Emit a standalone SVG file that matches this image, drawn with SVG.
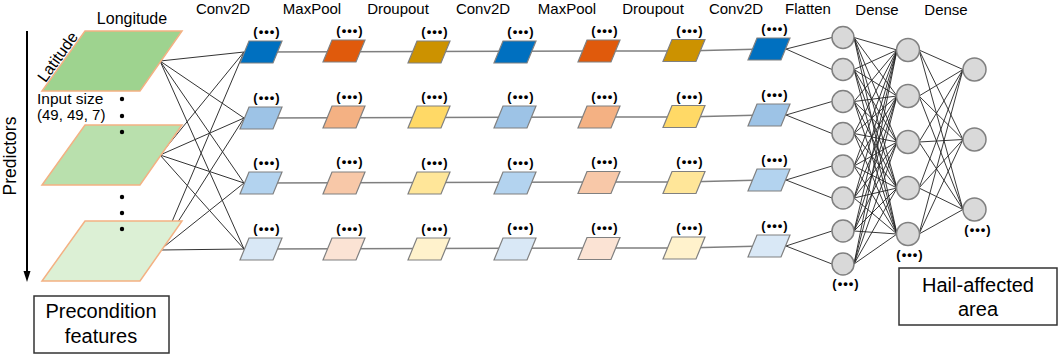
<svg xmlns="http://www.w3.org/2000/svg" xmlns:xlink="http://www.w3.org/1999/xlink" width="1059" height="356" viewBox="0 0 1059 356">
<style>
text{font-family:"Liberation Sans",Arial,sans-serif;fill:#000}
.hd{font-size:15px;text-anchor:middle}
.el{font-size:13px;font-weight:bold;text-anchor:middle;letter-spacing:1px}
.big{stroke:#f4b183;stroke-width:1.5}
.sm{stroke:#808080;stroke-width:1.2}
.fan line{stroke:#333;stroke-width:1}
.row{stroke:#7f7f7f;stroke-width:1.5;fill:none}
.nn line{stroke:#222;stroke-width:0.9}
.cir{fill:#d9d9d9;stroke:#808080;stroke-width:1.5}
.box{fill:#fff;stroke:#333;stroke-width:1.5}
.bt{font-size:20px;text-anchor:middle}
.c1a{fill:#0070c0}.c1b{fill:#9dc3e6}.c1c{fill:#b3d3ef}.c1d{fill:#d9e8f6}
.mpa{fill:#e05a0c}.mpb{fill:#f4b183}.mpc{fill:#f8c8a8}.mpd{fill:#fbe3d4}
.dra{fill:#cc9200}.drb{fill:#ffd966}.drc{fill:#ffe699}.drd{fill:#fff2cc}
</style>
<defs>
<path id="pg" d="M-12,-11 L21,-11 L12,11 L-21,11 Z"/>
</defs>

<!-- left axis -->
<g id="predictors">
<line x1="27" y1="31" x2="27" y2="272" stroke="#000" stroke-width="2"/>
<polygon points="27,282 23.5,271 30.5,271" fill="#000"/>
<text x="16" y="156" font-size="17.5" text-anchor="middle" transform="rotate(-90 16 156)">Predictors</text>
</g>

<!-- connectors -->
<g id="connectors">
<g class="fan">
<line x1="160" y1="61" x2="244" y2="52"/><line x1="160" y1="61" x2="244" y2="118"/><line x1="160" y1="61" x2="244" y2="183"/><line x1="160" y1="61" x2="244" y2="249"/>
<line x1="160" y1="155" x2="244" y2="52"/><line x1="160" y1="155" x2="244" y2="118"/><line x1="160" y1="155" x2="244" y2="183"/><line x1="160" y1="155" x2="244" y2="249"/>
<line x1="160" y1="250" x2="244" y2="52"/><line x1="160" y1="250" x2="244" y2="118"/><line x1="160" y1="250" x2="244" y2="183"/><line x1="160" y1="250" x2="244" y2="249"/>
</g>
<polyline class="row" points="261,52 599,51 684,51 769,49"/>
<polyline class="row" points="261,118 599,117 684,117 769,115"/>
<polyline class="row" points="261,183 599,182 684,182 769,180"/>
<polyline class="row" points="261,249 599,248 684,248 769,246"/>
<g class="nn">
<line x1="786" y1="49" x2="832" y2="37.5"/><line x1="786" y1="49" x2="832" y2="69.5"/>
<line x1="786" y1="115" x2="832" y2="101.5"/><line x1="786" y1="115" x2="832" y2="133.5"/>
<line x1="786" y1="180" x2="832" y2="166"/><line x1="786" y1="180" x2="832" y2="198"/>
<line x1="786" y1="246" x2="832" y2="231"/><line x1="786" y1="246" x2="832" y2="264"/>
</g>
<g class="nn" id="d1d2">
<line x1="854" y1="37.5" x2="897" y2="50"/><line x1="854" y1="37.5" x2="897" y2="96"/><line x1="854" y1="37.5" x2="897" y2="142"/><line x1="854" y1="37.5" x2="897" y2="188"/><line x1="854" y1="37.5" x2="897" y2="234"/>
<line x1="854" y1="69.5" x2="897" y2="50"/><line x1="854" y1="69.5" x2="897" y2="96"/><line x1="854" y1="69.5" x2="897" y2="142"/><line x1="854" y1="69.5" x2="897" y2="188"/><line x1="854" y1="69.5" x2="897" y2="234"/>
<line x1="854" y1="101.5" x2="897" y2="50"/><line x1="854" y1="101.5" x2="897" y2="96"/><line x1="854" y1="101.5" x2="897" y2="142"/><line x1="854" y1="101.5" x2="897" y2="188"/><line x1="854" y1="101.5" x2="897" y2="234"/>
<line x1="854" y1="133.5" x2="897" y2="50"/><line x1="854" y1="133.5" x2="897" y2="96"/><line x1="854" y1="133.5" x2="897" y2="142"/><line x1="854" y1="133.5" x2="897" y2="188"/><line x1="854" y1="133.5" x2="897" y2="234"/>
<line x1="854" y1="166" x2="897" y2="50"/><line x1="854" y1="166" x2="897" y2="96"/><line x1="854" y1="166" x2="897" y2="142"/><line x1="854" y1="166" x2="897" y2="188"/><line x1="854" y1="166" x2="897" y2="234"/>
<line x1="854" y1="198" x2="897" y2="50"/><line x1="854" y1="198" x2="897" y2="96"/><line x1="854" y1="198" x2="897" y2="142"/><line x1="854" y1="198" x2="897" y2="188"/><line x1="854" y1="198" x2="897" y2="234"/>
<line x1="854" y1="231" x2="897" y2="50"/><line x1="854" y1="231" x2="897" y2="96"/><line x1="854" y1="231" x2="897" y2="142"/><line x1="854" y1="231" x2="897" y2="188"/><line x1="854" y1="231" x2="897" y2="234"/>
<line x1="854" y1="264" x2="897" y2="50"/><line x1="854" y1="264" x2="897" y2="96"/><line x1="854" y1="264" x2="897" y2="142"/><line x1="854" y1="264" x2="897" y2="188"/><line x1="854" y1="264" x2="897" y2="234"/>
</g>
<g class="nn" id="d2d3">
<line x1="919" y1="50" x2="963" y2="69.5"/><line x1="919" y1="50" x2="963" y2="139.5"/><line x1="919" y1="50" x2="963" y2="209.5"/>
<line x1="919" y1="96" x2="963" y2="69.5"/><line x1="919" y1="96" x2="963" y2="139.5"/><line x1="919" y1="96" x2="963" y2="209.5"/>
<line x1="919" y1="142" x2="963" y2="69.5"/><line x1="919" y1="142" x2="963" y2="139.5"/><line x1="919" y1="142" x2="963" y2="209.5"/>
<line x1="919" y1="188" x2="963" y2="69.5"/><line x1="919" y1="188" x2="963" y2="139.5"/><line x1="919" y1="188" x2="963" y2="209.5"/>
<line x1="919" y1="234" x2="963" y2="69.5"/><line x1="919" y1="234" x2="963" y2="139.5"/><line x1="919" y1="234" x2="963" y2="209.5"/>
</g>
</g>

<!-- input planes -->
<g id="input1">
<polygon class="big" points="85,31 182,31 140,91 42,91" fill="#9ed38f"/>
<text x="132" y="24" font-size="16" text-anchor="middle">Longitude</text>
<text x="62" y="60" font-size="16" text-anchor="middle" transform="rotate(-54.4 62 60)">Latitude</text>
</g>
<g id="input2">
<polygon class="big" points="85,125 182,125 140,185 42,185" fill="#b9e0ad"/>
</g>
<g id="input3">
<polygon class="big" points="85,221 182,221 140,281 42,281" fill="#dcf0d5"/>
</g>
<g id="input-labels">
<text x="37" y="104" font-size="15.5">Input size</text>
<text x="37" y="120" font-size="15">(49, 49, 7)</text>
<circle cx="122" cy="99" r="2.2"/><circle cx="122" cy="116" r="2.2"/><circle cx="122" cy="132" r="2.2"/>
<circle cx="122" cy="197" r="2.2"/><circle cx="122" cy="213" r="2.2"/><circle cx="122" cy="229" r="2.2"/>
</g>
<g id="precondition">
<rect class="box" x="34" y="296" width="135" height="57"/>
<text class="bt" x="101" y="318">Precondition</text>
<text class="bt" x="101" y="343">features</text>
</g>

<!-- headers -->
<g id="headers">
<text class="hd" x="223" y="14">Conv2D</text>
<text class="hd" x="312" y="14">MaxPool</text>
<text class="hd" x="398" y="14">Droupout</text>
<text class="hd" x="483" y="14">Conv2D</text>
<text class="hd" x="567" y="14">MaxPool</text>
<text class="hd" x="653" y="14">Droupout</text>
<text class="hd" x="736" y="14">Conv2D</text>
<text class="hd" x="808" y="14">Flatten</text>
<text class="hd" x="877" y="15">Dense</text>
<text class="hd" x="946" y="15">Dense</text>
</g>

<!-- row 1 -->
<g id="r1-conv1"><use href="#pg" x="261" y="52" class="sm c1a"/><text class="el" x="267" y="36">(•••)</text></g>
<g id="r1-pool1"><use href="#pg" x="344" y="51" class="sm mpa"/><text class="el" x="350" y="35">(•••)</text></g>
<g id="r1-drop1"><use href="#pg" x="429" y="52" class="sm dra"/><text class="el" x="435" y="36">(•••)</text></g>
<g id="r1-conv2"><use href="#pg" x="515" y="52" class="sm c1a"/><text class="el" x="521" y="36">(•••)</text></g>
<g id="r1-pool2"><use href="#pg" x="599" y="51" class="sm mpa"/><text class="el" x="605" y="35">(•••)</text></g>
<g id="r1-drop2"><use href="#pg" x="684" y="50.5" class="sm dra"/><text class="el" x="690" y="34.5">(•••)</text></g>
<g id="r1-conv3"><use href="#pg" x="769" y="49" class="sm c1a"/><text class="el" x="775" y="33">(•••)</text></g>
<!-- row 2 -->
<g id="r2-conv1"><use href="#pg" x="261" y="118" class="sm c1b"/><text class="el" x="267" y="102">(•••)</text></g>
<g id="r2-pool1"><use href="#pg" x="344" y="117" class="sm mpb"/><text class="el" x="350" y="101">(•••)</text></g>
<g id="r2-drop1"><use href="#pg" x="429" y="117" class="sm drb"/><text class="el" x="435" y="101">(•••)</text></g>
<g id="r2-conv2"><use href="#pg" x="515" y="117" class="sm c1b"/><text class="el" x="521" y="101">(•••)</text></g>
<g id="r2-pool2"><use href="#pg" x="599" y="117" class="sm mpb"/><text class="el" x="605" y="101">(•••)</text></g>
<g id="r2-drop2"><use href="#pg" x="684" y="116.5" class="sm drb"/><text class="el" x="690" y="100.5">(•••)</text></g>
<g id="r2-conv3"><use href="#pg" x="769" y="115" class="sm c1b"/><text class="el" x="775" y="99">(•••)</text></g>
<!-- row 3 -->
<g id="r3-conv1"><use href="#pg" x="261" y="183" class="sm c1c"/><text class="el" x="267" y="167">(•••)</text></g>
<g id="r3-pool1"><use href="#pg" x="344" y="183" class="sm mpc"/><text class="el" x="350" y="166">(•••)</text></g>
<g id="r3-drop1"><use href="#pg" x="429" y="183" class="sm drc"/><text class="el" x="435" y="167">(•••)</text></g>
<g id="r3-conv2"><use href="#pg" x="515" y="183" class="sm c1c"/><text class="el" x="521" y="167">(•••)</text></g>
<g id="r3-pool2"><use href="#pg" x="599" y="182.5" class="sm mpc"/><text class="el" x="605" y="165.5">(•••)</text></g>
<g id="r3-drop2"><use href="#pg" x="684" y="182.5" class="sm drc"/><text class="el" x="690" y="166">(•••)</text></g>
<g id="r3-conv3"><use href="#pg" x="769" y="180" class="sm c1c"/><text class="el" x="775" y="164">(•••)</text></g>
<!-- row 4 -->
<g id="r4-conv1"><use href="#pg" x="261" y="249" class="sm c1d"/><text class="el" x="267" y="233">(•••)</text></g>
<g id="r4-pool1"><use href="#pg" x="344" y="249" class="sm mpd"/><text class="el" x="350" y="233">(•••)</text></g>
<g id="r4-drop1"><use href="#pg" x="429" y="249" class="sm drd"/><text class="el" x="435" y="233">(•••)</text></g>
<g id="r4-conv2"><use href="#pg" x="515" y="249" class="sm c1d"/><text class="el" x="521" y="232">(•••)</text></g>
<g id="r4-pool2"><use href="#pg" x="599" y="248.5" class="sm mpd"/><text class="el" x="605" y="232">(•••)</text></g>
<g id="r4-drop2"><use href="#pg" x="684" y="248" class="sm drd"/><text class="el" x="690" y="231.5">(•••)</text></g>
<g id="r4-conv3"><use href="#pg" x="769" y="246" class="sm c1d"/><text class="el" x="775" y="230">(•••)</text></g>

<!-- dense layer 1 -->
<g id="dense1">
<circle class="cir" cx="843" cy="37.5" r="11"/>
<circle class="cir" cx="843" cy="69.5" r="11" stroke="#44698f"/>
<circle class="cir" cx="843" cy="101.5" r="11"/>
<circle class="cir" cx="843" cy="133.5" r="11"/>
<circle class="cir" cx="843" cy="166" r="11"/>
<circle class="cir" cx="843" cy="198" r="11"/>
<circle class="cir" cx="843" cy="231" r="11"/>
<circle class="cir" cx="843" cy="264" r="11"/>
<text class="el" x="846" y="288">(•••)</text>
</g>
<g id="dense2">
<circle class="cir" cx="908" cy="50" r="11.5"/>
<circle class="cir" cx="908" cy="96" r="11.5"/>
<circle class="cir" cx="908" cy="142" r="11.5"/>
<circle class="cir" cx="908" cy="188" r="11.5"/>
<circle class="cir" cx="908" cy="234" r="11.5"/>
<text class="el" x="910" y="259">(•••)</text>
</g>
<g id="dense3">
<circle class="cir" cx="974.5" cy="69.5" r="11.5"/>
<circle class="cir" cx="974.5" cy="139.5" r="11.5"/>
<circle class="cir" cx="974.5" cy="209.5" r="11.5"/>
<text class="el" x="978" y="234">(•••)</text>
</g>
<g id="output">
<rect class="box" x="899" y="268" width="158" height="57"/>
<text class="bt" x="978" y="292">Hail-affected</text>
<text class="bt" x="978" y="316">area</text>
</g>
</svg>
